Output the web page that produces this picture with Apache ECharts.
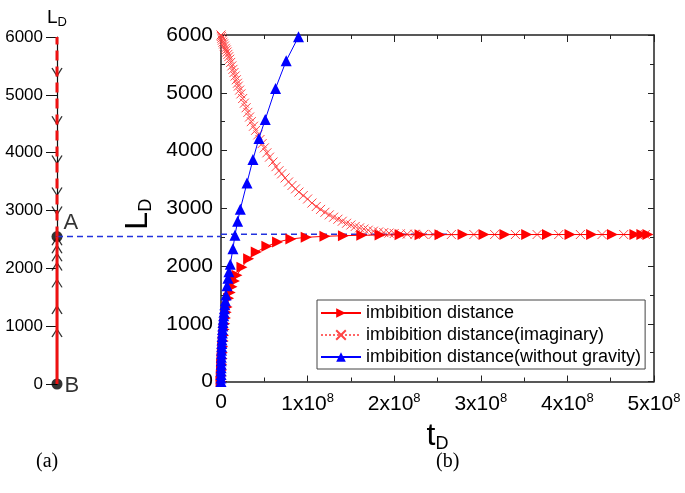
<!DOCTYPE html>
<html>
<head>
<meta charset="utf-8">
<script src="https://cdn.jsdelivr.net/npm/echarts@6/dist/echarts.min.js"></script>
<style>
html,body{margin:0;padding:0;background:#fff;}
#chart{width:685px;height:493px;}
</style>
</head>
<body>
<div id="chart"></div>
<script>
// time values in units of 1e8
const tImb = [0.001,0.003,0.006,0.009,0.012,0.016,0.02,0.025,0.03,0.036,0.043,0.051,0.06,0.07,0.088,0.107,0.127,0.155,0.184,0.242,0.319,0.407,0.53,0.653,0.807,0.984,1.2,1.414,1.626,1.837,2.068,2.299,2.529,2.795,3.037,3.279,3.53,3.77,4.03,4.28,4.52,4.78,4.86,4.93];
const LImb = [0,100,200,300,400,500,600,700,800,900,1000,1100,1200,1290,1440,1540,1640,1740,1840,1980,2127,2242,2341,2416,2468,2497,2514,2525,2532,2537,2540,2542,2543,2544,2545,2545,2545,2545,2545,2545,2545,2545,2545,2545];

const tImag = [0,0.004,0.009,0.015,0.022,0.03,0.04,0.05,0.06,0.07,0.08,0.09,0.1,0.112,0.125,0.138,0.15,0.163,0.177,0.19,0.2,0.215,0.23,0.25,0.27,0.29,0.31,0.33,0.35,0.375,0.4,0.425,0.45,0.475,0.5,0.53,0.56,0.6,0.635,0.67,0.7,0.74,0.78,0.82,0.86,0.9,0.95,1.0,1.05,1.1,1.15,1.2,1.25,1.3,1.35,1.4,1.45,1.5,1.55,1.6,1.65,1.7,1.76,1.82,1.88,1.94,2.0,2.07,2.15,2.24,2.34,2.45,2.66,2.92,3.16,3.4,3.65,3.9,4.15,4.4,4.65,4.9];
const LImag = [6000,5975,5945,5910,5875,5845,5810,5770,5740,5705,5665,5625,5580,5525,5465,5405,5350,5290,5225,5165,5115,5046,4980,4900,4820,4740,4660,4580,4500,4420,4350,4270,4190,4120,4045,3960,3885,3800,3720,3650,3595,3525,3455,3395,3335,3280,3220,3160,3090,3030,2980,2930,2885,2845,2810,2775,2740,2710,2685,2660,2640,2620,2603,2590,2579,2570,2563,2557,2552,2549,2547,2546,2545,2545,2545,2545,2545,2545,2545,2545,2545,2545];

const tNoGrav = [0,0.0002,0.0005,0.001,0.0015,0.002,0.003,0.004,0.005,0.006,0.0075,0.009,0.011,0.013,0.015,0.017,0.02,0.023,0.026,0.03,0.034,0.039,0.044,0.05,0.058,0.069,0.08,0.092,0.107,0.138,0.161,0.192,0.223,0.30,0.369,0.438,0.511,0.63,0.753,0.895];
const LNoGrav = [0,60,120,180,240,300,360,420,480,540,600,660,720,780,840,900,960,1020,1080,1140,1200,1260,1330,1400,1500,1660,1790,1900,2030,2300,2532,2774,2983,3439,3844,4208,4538,5075,5554,5970];

const plateauL = 2550;
const plateauEndT = 2.65;
const arrowsDown = [5394,4560,3880,3330,3000];
const arrowsUp = [2470,2330,2190,2030,1740,1280,880];

const zip = (a,b) => a.map((v,i)=>[v,b[i]]);
const SANS = 'Liberation Sans, Arial, sans-serif';

const chart = echarts.init(document.getElementById('chart'));

const xFmt = v => v === 0 ? '0' : '{n|' + v + 'x10}{s|8}';
const yFmt = v => String(v);

const option = {
  animation: false,
  backgroundColor: '#fff',
  textStyle: {fontFamily: SANS},
  grid: [
    {left: 57, top: 37, width: 164, height: 347},
    {left: 221, top: 35, width: 433, height: 346.5}
  ],
  graphic: [
    {type:'text', left: 36, top: 452, style:{text:'(a)', font:'20px "Liberation Serif", serif', fill:'#000'}},
    {type:'text', left: 436, top: 452, style:{text:'(b)', font:'20px "Liberation Serif", serif', fill:'#000'}}
  ],
  legend: {
    orient: 'vertical', left: 317, top: 300,
    itemWidth: 40, itemHeight: 12, itemGap: 4,
    padding: [4, 4, 3, 3],
    borderColor: '#444', borderWidth: 1,
    textStyle: {fontSize: 18, color: '#000', fontFamily: SANS},
    data: ['imbibition distance','imbibition distance(imaginary)','imbibition distance(without gravity)']
  },
  xAxis: [
    {gridIndex: 0, type: 'value', min: 0, max: 1, show: false},
    {gridIndex: 1, type: 'value', min: 0, max: 5, interval: 1, position: 'bottom',
     axisLine: {show: true, onZero: false, lineStyle: {color: '#222', width: 1.5}},
     axisTick: {show: true, inside: true, length: 6, lineStyle: {color: '#222'}},
     minorTick: {show: true, splitNumber: 2, length: 4, lineStyle: {color: '#222'}},
     splitLine: {show: false},
     axisLabel: {margin: 10, color: '#000', formatter: xFmt, fontSize: 21,
       rich: {n: {fontSize: 21, color: '#000', fontFamily: SANS}, s: {fontSize: 13, color: '#000', fontFamily: SANS, padding: [0,0,13,0]}}},
     name: '{a|t}{b|D}', nameLocation: 'middle', nameGap: 34,
     nameTextStyle: {rich: {a: {fontSize: 32, color: '#000', fontFamily: SANS}, b: {fontSize: 18, color: '#000', fontFamily: SANS, padding: [16,0,0,0]}}}
    },
    {gridIndex: 1, type: 'value', min: 0, max: 5, interval: 1, position: 'top',
     axisLine: {show: true, onZero: false, lineStyle: {color: '#222', width: 1.5}},
     axisTick: {show: true, inside: true, length: 7, lineStyle: {color: '#222'}},
     minorTick: {show: true, splitNumber: 2, length: 4, lineStyle: {color: '#222'}},
     splitLine: {show: false}, axisLabel: {show: false}}
  ],
  yAxis: [
    {gridIndex: 0, type: 'value', min: 0, max: 6000, interval: 1000, position: 'left',
     axisLine: {show: true, onZero: false, lineStyle: {color: '#111', width: 1.2}},
     axisTick: {show: true, inside: false, length: 11, lineStyle: {color: '#111'}},
     splitLine: {show: false},
     axisLabel: {margin: 14, fontSize: 17, color: '#000', formatter: yFmt},
     name: '{a|L}{b|D}', nameLocation: 'end', nameGap: 8,
     nameTextStyle: {align: 'center', rich: {a: {fontSize: 19, color: '#000', fontFamily: SANS}, b: {fontSize: 13, color: '#000', fontFamily: SANS, padding: [9,0,0,0]}}}
    },
    {gridIndex: 1, type: 'value', min: 0, max: 6000, interval: 1000, position: 'left',
     axisLine: {show: true, onZero: false, lineStyle: {color: '#222', width: 1.5}},
     axisTick: {show: true, inside: true, length: 6, lineStyle: {color: '#222'}},
     minorTick: {show: true, splitNumber: 2, length: 4, lineStyle: {color: '#222'}},
     splitLine: {show: false},
     axisLabel: {margin: 8, fontSize: 21, color: '#000', formatter: yFmt},
     name: '{a|L}{b|D}', nameLocation: 'middle', nameGap: 44, nameRotate: 90,
     nameTextStyle: {padding: [0, 12, 0, 0], rich: {a: {fontSize: 32, color: '#000', fontFamily: SANS}, b: {fontSize: 18, color: '#000', fontFamily: SANS, padding: [16,0,0,0]}}}
    },
    {gridIndex: 1, type: 'value', min: 0, max: 6000, interval: 1000, position: 'right',
     axisLine: {show: true, onZero: false, lineStyle: {color: '#222', width: 1.5}},
     axisTick: {show: true, inside: true, length: 6, lineStyle: {color: '#222'}},
     minorTick: {show: true, splitNumber: 2, length: 4, lineStyle: {color: '#222'}},
     splitLine: {show: false}, axisLabel: {show: false}}
  ],
  series: [
    // left panel
    {type: 'line', xAxisIndex: 0, yAxisIndex: 0, data: [[0, plateauL],[1, plateauL]], symbol: 'none', clip: false,
     lineStyle: {color: '#2233dd', width: 1.5, type: [6,4]}, silent: true},
    {type: 'line', xAxisIndex: 0, yAxisIndex: 0, data: [[0,0],[0,plateauL]], symbol: 'none', clip: false,
     lineStyle: {color: '#ee1111', width: 3}},
    {type: 'line', xAxisIndex: 0, yAxisIndex: 0, data: [[0,plateauL],[0,6000]], symbol: 'none', clip: false,
     lineStyle: {color: '#ee1111', width: 3, type: [10,6]}},
    {type: 'scatter', xAxisIndex: 0, yAxisIndex: 0, data: arrowsDown.map(v=>[0,v]), clip: false,
     symbol: 'path://M0,0L5,7L10,0', symbolSize: [10,8],
     itemStyle: {color: 'none', borderColor: '#000', borderWidth: 1.2}},
    {type: 'scatter', xAxisIndex: 0, yAxisIndex: 0, data: arrowsUp.map(v=>[0,v]), clip: false,
     symbol: 'path://M0,7L5,0L10,7', symbolSize: [10,8],
     itemStyle: {color: 'none', borderColor: '#000', borderWidth: 1.2}},
    {type: 'scatter', xAxisIndex: 0, yAxisIndex: 0, clip: false, symbol: 'circle', symbolSize: 11,
     itemStyle: {color: '#000'},
     data: [{value: [0, plateauL], label: {show: true, formatter: 'A', position: [12,-19]}},
            {value: [0, 0], label: {show: true, formatter: 'B', position: [13,-4]}}],
     label: {fontSize: 22, color: '#000', fontFamily: SANS}},
    // main panel
    {type: 'line', xAxisIndex: 1, yAxisIndex: 1, data: [[0, plateauL],[plateauEndT, plateauL]], symbol: 'none',
     lineStyle: {color: '#2233dd', width: 1.5, type: [6,4]}, silent: true, z: 1},
    {name: 'imbibition distance', type: 'line', xAxisIndex: 1, yAxisIndex: 1, data: zip(tImb, LImb),
     symbol: 'triangle', symbolRotate: -90, symbolSize: 11, showAllSymbol: true,
     itemStyle: {color: '#ff0000'}, lineStyle: {color: '#ff0000', width: 1}, z: 3},
    {name: 'imbibition distance(imaginary)', type: 'line', xAxisIndex: 1, yAxisIndex: 1, data: zip(tImag, LImag),
     symbol: 'path://M0,0L10,10M10,0L0,10', symbolSize: 9, showAllSymbol: true,
     itemStyle: {color: '#ff4444', borderColor: '#ff4444', borderWidth: 1},
     lineStyle: {color: '#ff6666', width: 1, type: 'dotted'}, z: 2},
    {name: 'imbibition distance(without gravity)', type: 'line', xAxisIndex: 1, yAxisIndex: 1, data: zip(tNoGrav, LNoGrav),
     symbol: 'triangle', symbolSize: 11, showAllSymbol: true,
     itemStyle: {color: '#0000ff'}, lineStyle: {color: '#0000ff', width: 1}, z: 4}
  ]
};
chart.setOption(option);
</script>
</body>
</html>
